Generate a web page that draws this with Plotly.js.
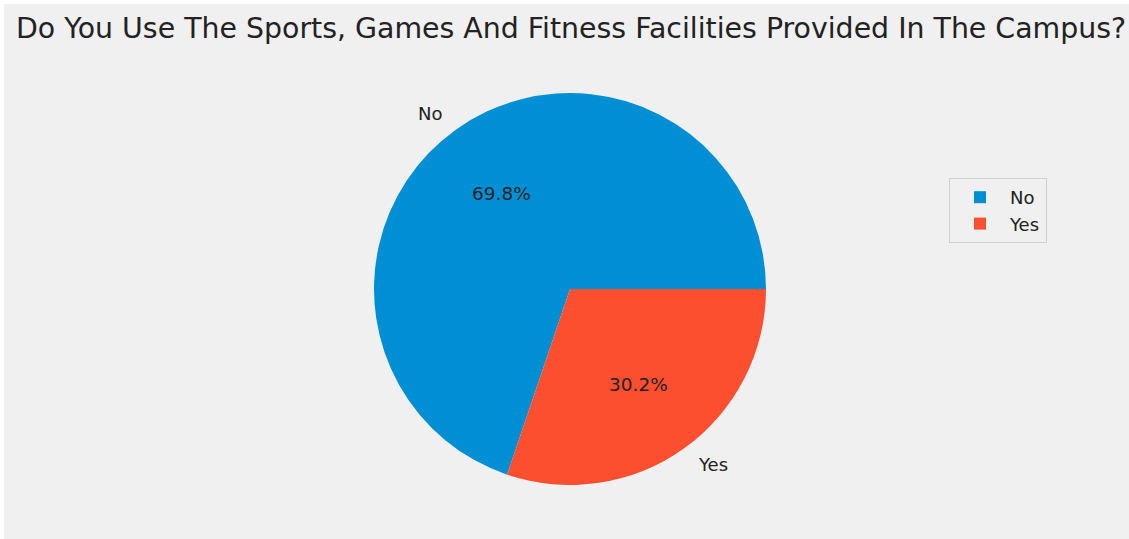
<!DOCTYPE html>
<html>
<head>
<meta charset="utf-8">
<script src="https://cdn.plot.ly/plotly-3.0.1.min.js"></script>
<style>
html,body{margin:0;padding:0;background:#ffffff;}
#chart{position:absolute;left:4px;top:4px;width:1125px;height:535px;}
</style>
</head>
<body>
<div id="chart"></div>
<script>
const categories = ["No", "Yes"];
const values = [69.8, 30.2];
const colors = ["#008fd5", "#fc4f30"];
const chartTitle = "Do You Use The Sports, Games And Fitness Facilities Provided In The Campus?";

const W = 1125, H = 535;
const cx = 566, cy = 285, R = 196; // pie centre/radius in div pixels
const FONT = "DejaVu Sans, sans-serif";

const total = values.reduce((a, b) => a + b, 0);
const annotations = [];
let start = 0; // matplotlib: start at 3 o'clock, counterclockwise
values.forEach((v, i) => {
  const sweep = v / total * 360;
  const mid = (start + sweep / 2) * Math.PI / 180;
  start += sweep;
  const c = Math.cos(mid), s = Math.sin(mid);
  const lx = cx + 1.1 * R * c, ly = cy - 1.1 * R * s;
  annotations.push({
    x: lx / W, y: 1 - ly / H, xref: "paper", yref: "paper",
    text: categories[i], showarrow: false,
    xanchor: c < 0 ? "right" : "left", yanchor: "middle",
    font: {family: FONT, size: 18, color: "#222222"}
  });
  const px = cx + 0.6 * R * c, py = cy - 0.6 * R * s;
  annotations.push({
    x: px / W, y: 1 - py / H, xref: "paper", yref: "paper",
    text: (v / total * 100).toFixed(1) + "%", showarrow: false,
    xanchor: "center", yanchor: "middle",
    font: {family: FONT, size: 18.5, color: "#222222"}
  });
});

// plotly counterclockwise: first slice lies clockwise of the rotation line,
// so shift it to begin at 3 o'clock going counterclockwise like matplotlib
const firstSweep = values[0] / total * 360;

const trace = {
  type: "pie",
  labels: categories,
  values: values,
  sort: false,
  direction: "counterclockwise",
  rotation: 90 - firstSweep,
  marker: {colors: colors, line: {width: 0}},
  textinfo: "none",
  hoverinfo: "label+percent",
  domain: {x: [(cx - R) / W, (cx + R) / W], y: [1 - (cy + R) / H, 1 - (cy - R) / H]}
};

const layout = {
  width: W, height: H,
  paper_bgcolor: "#f0f0f0",
  plot_bgcolor: "#f0f0f0",
  margin: {l: 0, r: 0, t: 0, b: 0},
  title: {
    text: chartTitle,
    x: 567 / W, xanchor: "center", xref: "paper",
    y: 1 - 24 / H, yanchor: "middle", yref: "paper",
    font: {family: FONT, size: 28.4, color: "#222222"}
  },
  showlegend: true,
  legend: {
    x: 945 / W, y: 1 - 174 / H, xanchor: "left", yanchor: "top",
    bgcolor: "#f0f0f0", bordercolor: "#d0d0d0", borderwidth: 1,
    font: {family: FONT, size: 18, color: "#222222"},
    itemwidth: 50,
    traceorder: "normal"
  },
  annotations: annotations
};

Plotly.newPlot("chart", [trace], layout, {displayModeBar: false, staticPlot: true});
</script>
</body>
</html>
